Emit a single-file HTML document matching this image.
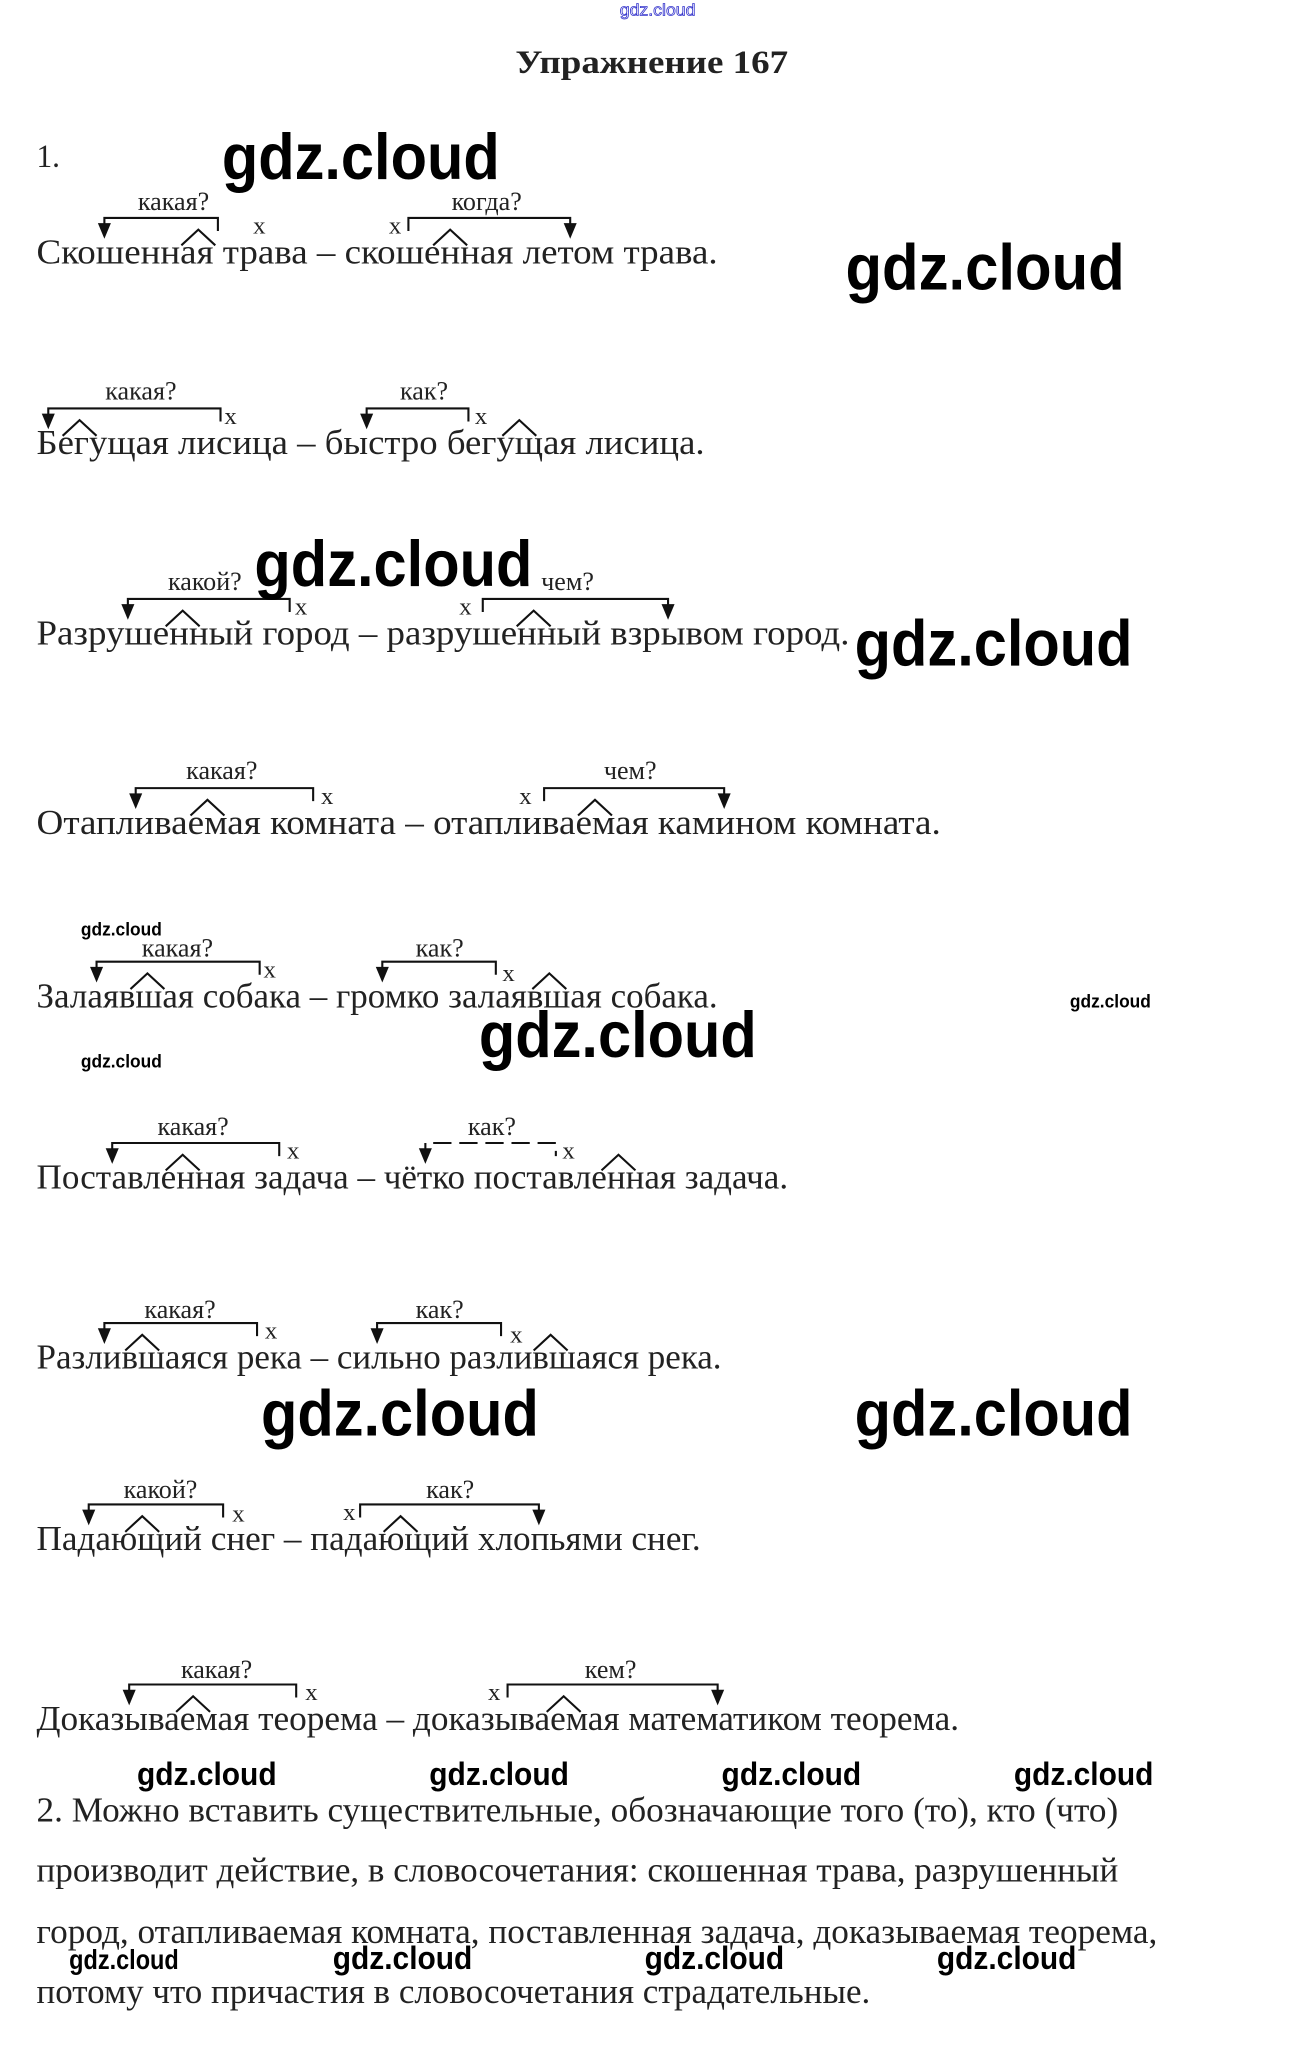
<!DOCTYPE html>
<html><head><meta charset="utf-8"><style>
html,body{margin:0;padding:0;background:#fff;width:1314px;height:2045px;overflow:hidden}
svg{display:block}
.t{font-family:"Liberation Serif","Noto Serif CJK SC",serif;fill:#222}
.w{font-family:"Liberation Sans","DejaVu Sans",sans-serif;font-weight:bold;fill:#000}
</style></head><body>
<svg width="1314" height="2045" viewBox="0 0 1000 1556.3" xmlns="http://www.w3.org/2000/svg">
<defs>
<g id="ah"><path d="M-5,-12 L5,-12 L0,0 Z" fill="#111"/></g>
</defs>
<g transform="scale(0.993)">
<text x="475" y="12" font-family="Liberation Sans,sans-serif" font-size="13" fill="none" stroke="#3333cc" stroke-width="0.6" textLength="58" lengthAdjust="spacingAndGlyphs">gdz.cloud</text>
<text class="t" x="395" y="56" font-size="25" font-weight="bold" fill="#111" textLength="209" lengthAdjust="spacingAndGlyphs">Упражнение 167</text>
<text class="t" x="28" y="128" font-size="25" textLength="18" lengthAdjust="spacingAndGlyphs">1.</text>

<g class="t" font-size="27">
<text x="28" y="202" textLength="522" lengthAdjust="spacingAndGlyphs">Скошенная трава – скошенная летом трава.</text>
<text x="28" y="348" textLength="512" lengthAdjust="spacingAndGlyphs">Бегущая лисица – быстро бегущая лисица.</text>
<text x="28" y="494" textLength="623" lengthAdjust="spacingAndGlyphs">Разрушенный город – разрушенный взрывом город.</text>
<text x="28" y="639" textLength="693" lengthAdjust="spacingAndGlyphs">Отапливаемая комната – отапливаемая камином комната.</text>
<text x="28" y="772" textLength="522" lengthAdjust="spacingAndGlyphs">Залаявшая собака – громко залаявшая собака.</text>
<text x="28" y="911" textLength="576" lengthAdjust="spacingAndGlyphs">Поставленная задача – чётко поставленная задача.</text>
<text x="28" y="1049" textLength="525" lengthAdjust="spacingAndGlyphs">Разлившаяся река – сильно разлившаяся река.</text>
<text x="28" y="1188" textLength="509" lengthAdjust="spacingAndGlyphs">Падающий снег – падающий хлопьями снег.</text>
<text x="28" y="1326" textLength="707" lengthAdjust="spacingAndGlyphs">Доказываемая теорема – доказываемая математиком теорема.</text>
<text x="28" y="1396" textLength="829" lengthAdjust="spacingAndGlyphs">2. Можно вставить существительные, обозначающие того (то), кто (что)</text>
<text x="28" y="1442" textLength="829" lengthAdjust="spacingAndGlyphs">производит действие, в словосочетания: скошенная трава, разрушенный</text>
<text x="28" y="1489" textLength="859" lengthAdjust="spacingAndGlyphs">город, отапливаемая комната, поставленная задача, доказываемая теорема,</text>
<text x="28" y="1535" textLength="639" lengthAdjust="spacingAndGlyphs">потому что причастия в словосочетания страдательные.</text>
</g>

<g stroke="#111" stroke-width="1.6" fill="none">
<path d="M80,181 V167 H167 V177"/><path d="M313,177 V167 H437 V181"/>
<path d="M139,188 L152,176 L165,188"/><path d="M332,188 L345,176 L358,188"/>
<path d="M37,327 V313 H169 V323"/><path d="M281,327 V313 H359 V323"/>
<path d="M48,334 L61,322 L74,334"/><path d="M385,334 L398,322 L411,334"/>
<path d="M98,473 V459 H222 V469"/><path d="M370,469 V459 H512 V473"/>
<path d="M127,480 L140,468 L153,480"/><path d="M396,480 L409,468 L422,480"/>
<path d="M104,618 V604 H240 V614"/><path d="M417,614 V604 H555 V618"/>
<path d="M146,625 L159,613 L172,625"/><path d="M443,625 L456,613 L469,625"/>
<path d="M74,751 V737 H199 V747"/><path d="M293,751 V737 H380 V747"/>
<path d="M100,758 L113,746 L126,758"/><path d="M408,758 L421,746 L434,758"/>
<path d="M86,890 V876 H214 V886"/><path d="M326,890 V876 H426 V886" stroke-dasharray="14,6"/>
<path d="M127,897 L140,885 L153,897"/><path d="M461,897 L474,885 L487,897"/>
<path d="M80,1028 V1014 H197 V1024"/><path d="M289,1028 V1014 H384 V1024"/>
<path d="M96,1035 L109,1023 L122,1035"/><path d="M409,1035 L422,1023 L435,1035"/>
<path d="M68,1167 V1153 H171 V1163"/><path d="M276,1163 V1153 H413 V1167"/>
<path d="M96,1174 L109,1162 L122,1174"/><path d="M294,1174 L307,1162 L320,1174"/>
<path d="M99,1305 V1291 H227 V1301"/><path d="M389,1301 V1291 H550 V1305"/>
<path d="M135,1312 L148,1300 L161,1312"/><path d="M419,1312 L432,1300 L445,1312"/>
</g>
<g>
<use href="#ah" x="80" y="183"/><use href="#ah" x="437" y="183"/>
<use href="#ah" x="37" y="329"/><use href="#ah" x="281" y="329"/>
<use href="#ah" x="98" y="475"/><use href="#ah" x="512" y="475"/>
<use href="#ah" x="104" y="620"/><use href="#ah" x="555" y="620"/>
<use href="#ah" x="74" y="753"/><use href="#ah" x="293" y="753"/>
<use href="#ah" x="86" y="892"/><use href="#ah" x="326" y="892"/>
<use href="#ah" x="80" y="1030"/><use href="#ah" x="289" y="1030"/>
<use href="#ah" x="68" y="1169"/><use href="#ah" x="413" y="1169"/>
<use href="#ah" x="99" y="1307"/><use href="#ah" x="550" y="1307"/>
</g>

<g class="t" font-size="20" text-anchor="middle">
<text x="133" y="161">какая?</text><text x="373" y="161">когда?</text>
<text x="108" y="306">какая?</text><text x="325" y="306">как?</text>
<text x="157" y="452">какой?</text><text x="435" y="452">чем?</text>
<text x="170" y="597">какая?</text><text x="483" y="597">чем?</text>
<text x="136" y="733">какая?</text><text x="337" y="733">как?</text>
<text x="148" y="870">какая?</text><text x="377" y="870">как?</text>
<text x="138" y="1010">какая?</text><text x="337" y="1010">как?</text>
<text x="123" y="1148">какой?</text><text x="345" y="1148">как?</text>
<text x="166" y="1286">какая?</text><text x="468" y="1286">кем?</text>
</g>
<g class="t" font-size="19">
<text x="194" y="179">x</text><text x="298" y="179">x</text>
<text x="172" y="325">x</text><text x="364" y="325">x</text>
<text x="226" y="471">x</text><text x="352" y="471">x</text>
<text x="246" y="616">x</text><text x="398" y="616">x</text>
<text x="202" y="749">x</text><text x="385" y="752">x</text>
<text x="220" y="888">x</text><text x="431" y="888">x</text>
<text x="203" y="1026">x</text><text x="391" y="1029">x</text>
<text x="178" y="1166">x</text><text x="263" y="1165">x</text>
<text x="234" y="1303">x</text><text x="374" y="1303">x</text>
</g>

<g class="w">
<text x="170" y="137" font-size="50" textLength="213" lengthAdjust="spacingAndGlyphs">gdz.cloud</text>
<text x="648" y="222" font-size="50" textLength="214" lengthAdjust="spacingAndGlyphs">gdz.cloud</text>
<text x="195" y="449" font-size="50" textLength="213" lengthAdjust="spacingAndGlyphs">gdz.cloud</text>
<text x="655" y="510" font-size="50" textLength="213" lengthAdjust="spacingAndGlyphs">gdz.cloud</text>
<text x="367" y="810" font-size="50" textLength="213" lengthAdjust="spacingAndGlyphs">gdz.cloud</text>
<text x="200" y="1100" font-size="50" textLength="213" lengthAdjust="spacingAndGlyphs">gdz.cloud</text>
<text x="655" y="1100" font-size="50" textLength="213" lengthAdjust="spacingAndGlyphs">gdz.cloud</text>
<text x="62" y="717" font-size="14" textLength="62" lengthAdjust="spacingAndGlyphs">gdz.cloud</text>
<text x="62" y="818" font-size="14" textLength="62" lengthAdjust="spacingAndGlyphs">gdz.cloud</text>
<text x="820" y="772" font-size="14" textLength="62" lengthAdjust="spacingAndGlyphs">gdz.cloud</text>
<text x="105" y="1368" font-size="25" textLength="107" lengthAdjust="spacingAndGlyphs">gdz.cloud</text>
<text x="329" y="1368" font-size="25" textLength="107" lengthAdjust="spacingAndGlyphs">gdz.cloud</text>
<text x="553" y="1368" font-size="25" textLength="107" lengthAdjust="spacingAndGlyphs">gdz.cloud</text>
<text x="777" y="1368" font-size="25" textLength="107" lengthAdjust="spacingAndGlyphs">gdz.cloud</text>
<text x="53" y="1509" font-size="21" textLength="84" lengthAdjust="spacingAndGlyphs">gdz.cloud</text>
<text x="255" y="1509" font-size="25" textLength="107" lengthAdjust="spacingAndGlyphs">gdz.cloud</text>
<text x="494" y="1509" font-size="25" textLength="107" lengthAdjust="spacingAndGlyphs">gdz.cloud</text>
<text x="718" y="1509" font-size="25" textLength="107" lengthAdjust="spacingAndGlyphs">gdz.cloud</text>
</g>
</g>
</svg>
</body></html>
